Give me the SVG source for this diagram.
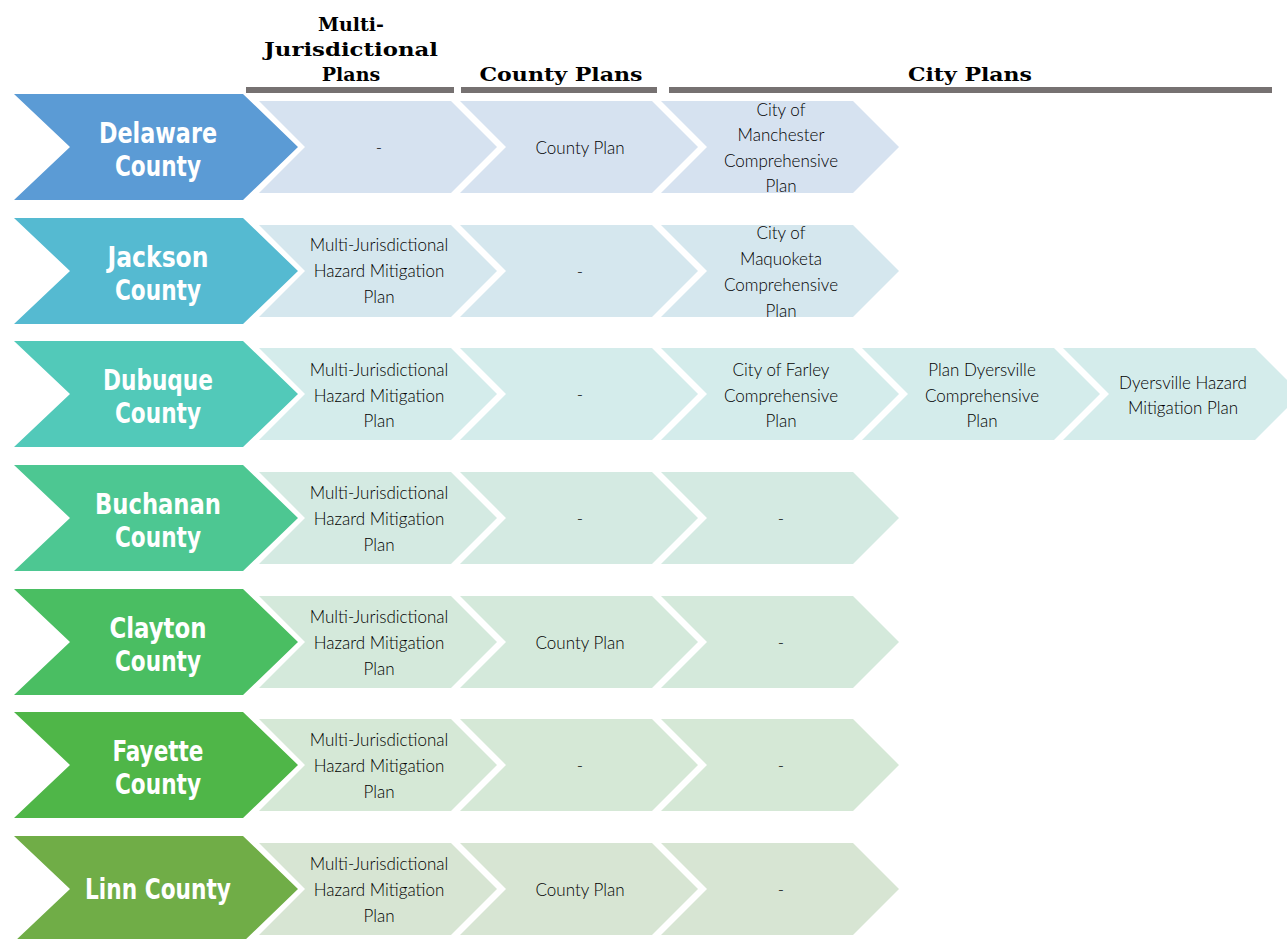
<svg xmlns="http://www.w3.org/2000/svg" xmlns:xlink="http://www.w3.org/1999/xlink" width="1287" height="939" viewBox="0 0 1287 939">
<defs>
<polygon id="cc" points="0,0 229,0 284,53 229,106 0,106 56,53"/>
<polygon id="lc" points="0,0 192,0 238,46 192,92 0,92 46,46"/>
<style>
.hd{font-family:"DejaVu Serif","Liberation Serif",serif;font-weight:bold;font-size:19px;fill:#000;text-anchor:middle}
.bar{fill:#767171}
.cn{font-family:"DejaVu Sans","Liberation Sans",sans-serif;font-weight:bold;font-stretch:condensed;font-size:28px;fill:#fff;text-anchor:middle}
.pt{font-family:Lato,"Open Sans",sans-serif;font-weight:300;font-size:17px;fill:#000;text-anchor:middle}
</style>
</defs>
<rect width="1287" height="939" fill="#fff"/>
<g id="header">
<rect class="bar" x="246" y="87" width="208" height="6"/>
<rect class="bar" x="461" y="87" width="196" height="6"/>
<rect class="bar" x="669" y="87" width="603" height="6"/>
<text class="hd" x="351" y="31">Multi-</text>
<text class="hd" x="351" y="56" textLength="174" lengthAdjust="spacingAndGlyphs">Jurisdictional</text>
<text class="hd" x="351" y="81">Plans</text>
<text class="hd" x="561" y="81" textLength="163" lengthAdjust="spacingAndGlyphs">County Plans</text>
<text class="hd" x="970" y="81" textLength="124" lengthAdjust="spacingAndGlyphs">City Plans</text>
</g>

<g id="delaware">
<use xlink:href="#cc" x="14" y="94" fill="#5B9BD5"/>
<text class="cn"><tspan x="158" y="143" textLength="118" lengthAdjust="spacingAndGlyphs">Delaware</tspan><tspan x="158" y="176" textLength="86" lengthAdjust="spacingAndGlyphs">County</tspan></text>
</g>
<g id="delaware-plans" fill="#D6E2F0">
<use xlink:href="#lc" x="259" y="101"/>
<use xlink:href="#lc" x="460" y="101"/>
<use xlink:href="#lc" x="661" y="101"/>
<text class="pt" x="379" y="154">-</text>
<text class="pt" x="580" y="154">County Plan</text>
<text class="pt"><tspan x="781" y="116">City of</tspan><tspan x="781" y="141">Manchester</tspan><tspan x="781" y="167">Comprehensive</tspan><tspan x="781" y="192">Plan</tspan></text>
</g>

<g id="jackson">
<use xlink:href="#cc" x="14" y="218" fill="#55BAD1"/>
<text class="cn"><tspan x="158" y="267" textLength="101" lengthAdjust="spacingAndGlyphs">Jackson</tspan><tspan x="158" y="300" textLength="86" lengthAdjust="spacingAndGlyphs">County</tspan></text>
</g>
<g id="jackson-plans" fill="#D5E7EE">
<use xlink:href="#lc" x="259" y="225"/>
<use xlink:href="#lc" x="460" y="225"/>
<use xlink:href="#lc" x="661" y="225"/>
<text class="pt"><tspan x="379" y="251">Multi-Jurisdictional</tspan><tspan x="379" y="277">Hazard Mitigation</tspan><tspan x="379" y="303">Plan</tspan></text>
<text class="pt" x="580" y="278">-</text>
<text class="pt"><tspan x="781" y="239">City of</tspan><tspan x="781" y="265">Maquoketa</tspan><tspan x="781" y="291">Comprehensive</tspan><tspan x="781" y="317">Plan</tspan></text>
</g>

<g id="dubuque">
<use xlink:href="#cc" x="14" y="341" fill="#52C9B9"/>
<text class="cn"><tspan x="158" y="390" textLength="110" lengthAdjust="spacingAndGlyphs">Dubuque</tspan><tspan x="158" y="423" textLength="86" lengthAdjust="spacingAndGlyphs">County</tspan></text>
</g>
<g id="dubuque-plans" fill="#D4ECEB">
<use xlink:href="#lc" x="259" y="348"/>
<use xlink:href="#lc" x="460" y="348"/>
<use xlink:href="#lc" x="661" y="348"/>
<use xlink:href="#lc" x="862" y="348"/>
<use xlink:href="#lc" x="1063" y="348"/>
<text class="pt"><tspan x="379" y="376">Multi-Jurisdictional</tspan><tspan x="379" y="402">Hazard Mitigation</tspan><tspan x="379" y="427">Plan</tspan></text>
<text class="pt" x="580" y="401">-</text>
<text class="pt"><tspan x="781" y="376">City of Farley</tspan><tspan x="781" y="402">Comprehensive</tspan><tspan x="781" y="427">Plan</tspan></text>
<text class="pt"><tspan x="982" y="376">Plan Dyersville</tspan><tspan x="982" y="402">Comprehensive</tspan><tspan x="982" y="427">Plan</tspan></text>
<text class="pt"><tspan x="1183" y="389">Dyersville Hazard</tspan><tspan x="1183" y="414">Mitigation Plan</tspan></text>
</g>

<g id="buchanan">
<use xlink:href="#cc" x="14" y="465" fill="#4DC792"/>
<text class="cn"><tspan x="158" y="514" textLength="126" lengthAdjust="spacingAndGlyphs">Buchanan</tspan><tspan x="158" y="547" textLength="86" lengthAdjust="spacingAndGlyphs">County</tspan></text>
</g>
<g id="buchanan-plans" fill="#D4EAE2">
<use xlink:href="#lc" x="259" y="472"/>
<use xlink:href="#lc" x="460" y="472"/>
<use xlink:href="#lc" x="661" y="472"/>
<text class="pt"><tspan x="379" y="499">Multi-Jurisdictional</tspan><tspan x="379" y="525">Hazard Mitigation</tspan><tspan x="379" y="551">Plan</tspan></text>
<text class="pt" x="580" y="525">-</text>
<text class="pt" x="781" y="525">-</text>
</g>

<g id="clayton">
<use xlink:href="#cc" x="14" y="589" fill="#4ABE62"/>
<text class="cn"><tspan x="158" y="638" textLength="97" lengthAdjust="spacingAndGlyphs">Clayton</tspan><tspan x="158" y="671" textLength="86" lengthAdjust="spacingAndGlyphs">County</tspan></text>
</g>
<g id="clayton-plans" fill="#D4E9DB">
<use xlink:href="#lc" x="259" y="596"/>
<use xlink:href="#lc" x="460" y="596"/>
<use xlink:href="#lc" x="661" y="596"/>
<text class="pt"><tspan x="379" y="623">Multi-Jurisdictional</tspan><tspan x="379" y="649">Hazard Mitigation</tspan><tspan x="379" y="675">Plan</tspan></text>
<text class="pt" x="580" y="649">County Plan</text>
<text class="pt" x="781" y="649">-</text>
</g>

<g id="fayette">
<use xlink:href="#cc" x="14" y="712" fill="#4FB648"/>
<text class="cn"><tspan x="158" y="761" textLength="91" lengthAdjust="spacingAndGlyphs">Fayette</tspan><tspan x="158" y="794" textLength="86" lengthAdjust="spacingAndGlyphs">County</tspan></text>
</g>
<g id="fayette-plans" fill="#D5E8D6">
<use xlink:href="#lc" x="259" y="719"/>
<use xlink:href="#lc" x="460" y="719"/>
<use xlink:href="#lc" x="661" y="719"/>
<text class="pt"><tspan x="379" y="746">Multi-Jurisdictional</tspan><tspan x="379" y="772">Hazard Mitigation</tspan><tspan x="379" y="798">Plan</tspan></text>
<text class="pt" x="580" y="772">-</text>
<text class="pt" x="781" y="772">-</text>
</g>

<g id="linn">
<use xlink:href="#cc" x="14" y="836" fill="#70AD47"/>
<text class="cn" x="158" y="899" textLength="146" lengthAdjust="spacingAndGlyphs">Linn County</text>
</g>
<g id="linn-plans" fill="#D7E5D3">
<use xlink:href="#lc" x="259" y="843"/>
<use xlink:href="#lc" x="460" y="843"/>
<use xlink:href="#lc" x="661" y="843"/>
<text class="pt"><tspan x="379" y="870">Multi-Jurisdictional</tspan><tspan x="379" y="896">Hazard Mitigation</tspan><tspan x="379" y="922">Plan</tspan></text>
<text class="pt" x="580" y="896">County Plan</text>
<text class="pt" x="781" y="896">-</text>
</g>
</svg>
